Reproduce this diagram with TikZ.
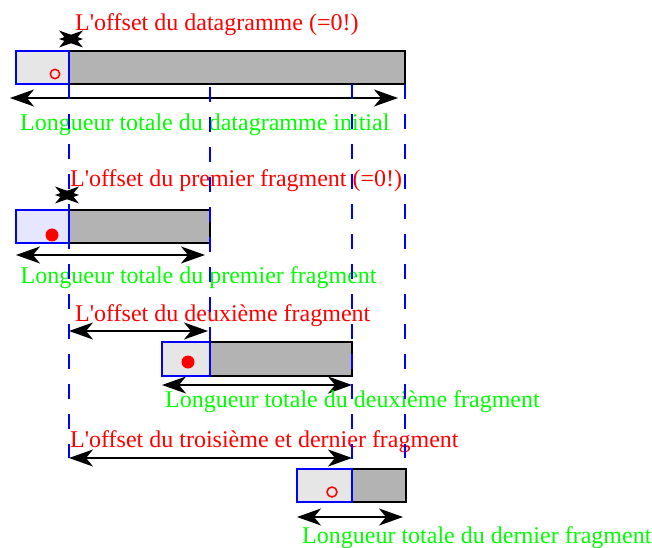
\documentclass[tikz,border=0pt]{standalone}
\usepackage{fontspec}
\newfontfamily\figfont{Liberation Serif}
\usetikzlibrary{arrows.meta}
\definecolor{hdrgray}{HTML}{E6E6E6}
\definecolor{hdrlav}{HTML}{E6E6FF}
\definecolor{bodygray}{HTML}{B3B3B3}
\definecolor{txtred}{HTML}{FF0000}
\definecolor{txtgreen}{HTML}{00FF00}
\definecolor{lineblue}{HTML}{0000FF}
\begin{document}
\begin{tikzpicture}[x=1bp,y=-1bp,
  lw/.style={line width=2bp},
  hdr/.style={lw,draw=lineblue,fill=#1},
  body/.style={lw,draw=black,fill=bodygray},
  lab/.style={anchor=base west,inner sep=0pt,font=\figfont\fontsize{24bp}{28bp}\selectfont},
  redlab/.style={lab,text=txtred},
  greenlab/.style={lab,text=txtgreen},
  dim/.style={lw,draw=black,{Stealth[length=24bp,width=17bp,inset=7bp]}-{Stealth[length=24bp,width=17bp,inset=7bp]}},
  guide/.style={lw,draw=lineblue,dash pattern=on 15bp off 15bp},
  opendot/.style={line width=1.5bp,draw=txtred},
  fulldot/.style={fill=txtred},
  startip/.style={fill=black}
]
\useasboundingbox (0,0) rectangle (652,548);

% ---------- Row 1 : initial datagram
\path[body] (69,51) rectangle (405,84);
\path[hdr=hdrgray] (16,51) rectangle (69,84);
\draw[opendot] (55,74) circle (4.7);
\coordinate (a1l) at (10,98);
\coordinate (a1r) at (398,98);
\draw[dim] (a1l) -- (a1r);
\fill[startip] (59,39) -- (83,30.5) -- (76,39) -- (83,47.5) -- cycle;
\fill[startip] (83,39) -- (59,30.5) -- (66,39) -- (59,47.5) -- cycle;
\node[redlab] (t1) at (75,31) {L'offset du datagramme (=0!)};
\node[greenlab] (g1) at (20,131) {Longueur totale du datagramme initial};

% ---------- Row 2 : first fragment
\path[body] (69,210) rectangle (210,243);
\path[hdr=hdrlav] (16,210) rectangle (69,243);
\fill[fulldot] (52,235) circle (6.5);
\coordinate (a2l) at (16,255);
\coordinate (a2r) at (205,255);
\draw[dim] (a2l) -- (a2r);
\fill[startip] (55,195) -- (79,186.5) -- (72,195) -- (79,203.5) -- cycle;
\fill[startip] (79,195) -- (55,186.5) -- (62,195) -- (55,203.5) -- cycle;
\node[redlab] (t2) at (70,187) {L'offset du premier fragment (=0!)};
\node[greenlab] (g2) at (20.5,283) {Longueur totale du premier fragment};

% ---------- Row 3 : second fragment
\path[body] (210,342) rectangle (352,376);
\path[hdr=hdrgray] (162,342) rectangle (210,376);
\fill[fulldot] (188,362) circle (6.5);
\coordinate (o3l) at (69,331);
\coordinate (o3r) at (208,331);
\draw[dim] (o3l) -- (o3r);
\coordinate (a3l) at (162,385);
\coordinate (a3r) at (352,385);
\draw[dim] (a3l) -- (a3r);
\node[redlab] (t3) at (75,321) {L'offset du deuxième fragment};
\node[greenlab] (g3) at (165,407) {Longueur totale du deuxième fragment};

% ---------- Row 4 : last fragment
\path[body] (352,469) rectangle (406,502);
\path[hdr=hdrgray] (297,469) rectangle (352,502);
\draw[opendot] (332,492) circle (5);
\coordinate (o4l) at (69,458);
\coordinate (o4r) at (352,458);
\draw[dim] (o4l) -- (o4r);
\coordinate (a4l) at (297,517);
\coordinate (a4r) at (403,517);
\draw[dim] (a4l) -- (a4r);
\node[redlab] (t4) at (70,447) {L'offset du troisième et dernier fragment};
\node[greenlab] (g4) at (302,543) {Longueur totale du dernier fragment};

% ---------- dashed guides
\coordinate (d1t) at (69,84);  \coordinate (d1b) at (69,458);
\coordinate (d2t) at (210,87); \coordinate (d2b) at (210,342);
\coordinate (d3t) at (352,84); \coordinate (d3b) at (352,469);
\coordinate (d4t) at (405,84); \coordinate (d4b) at (405,458);
\draw[guide] (d1t) -- (d1b);
\draw[guide] (d2t) -- (d2b);
\draw[guide] (d3t) -- (d3b);
\draw[guide] (d4t) -- (d4b);
\end{tikzpicture}
\end{document}
